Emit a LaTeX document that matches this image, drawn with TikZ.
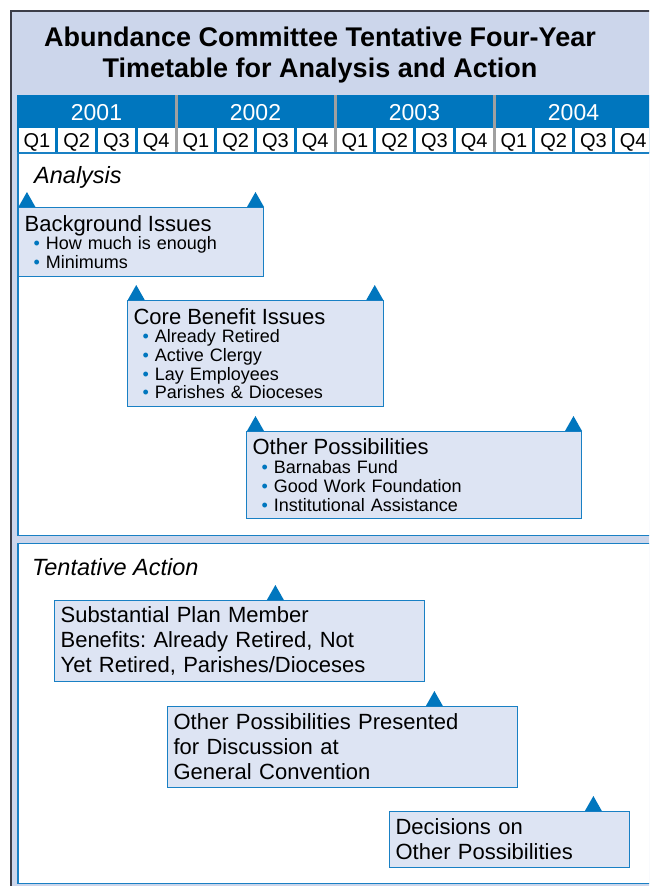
\documentclass[tikz,border=0pt]{standalone}
\usepackage{fontspec}
\setmainfont{Liberation Sans}
\usetikzlibrary{positioning}

\definecolor{lav}{RGB}{204,214,235}
\definecolor{boxfill}{RGB}{221,228,243}
\definecolor{boxline}{RGB}{25,128,196}
\definecolor{tlblue}{RGB}{0,118,190}
\definecolor{framegray}{RGB}{60,62,72}
\definecolor{divgray}{RGB}{160,160,160}

\newcommand{\qw}{39.75}
\newcommand{\boxhead}[1]{{\fontsize{22}{18.7}\selectfont #1}}
\newcommand{\itm}{\hspace*{9pt}{\color{tlblue}\textbullet}\hspace{6pt}}
\newcommand{\qmark}[2]{%
  \path ({17+#1*\qw},0) coordinate (qm);
  \fill[tlblue] (qm |- #2.north) ++(-8.5,0) -- ++(17,0) -- ++(-8.5,-15) -- cycle;}

\tikzset{
  ttl/.style={anchor=base,inner sep=0,font=\fontsize{27}{30}\selectfont\bfseries},
  yrlbl/.style={anchor=base,inner sep=0,text=white,font=\fontsize{23}{25}\selectfont},
  qlbl/.style={anchor=base,inner sep=0,font=\fontsize{20}{22}\selectfont},
  sectlbl/.style={anchor=base west,inner sep=0,font=\fontsize{23.5}{28}\selectfont\itshape},
  tlbox/.style={draw=boxline,line width=1.2pt,fill=boxfill,anchor=north west,
    inner xsep=6pt,inner ysep=0pt,align=left,font=\fontsize{18}{18.7}\selectfont},
  tlbig/.style={tlbox,font=\fontsize{22}{25}\selectfont}
}

\begin{document}
\frenchspacing
\begin{tikzpicture}[x=1pt,y=-1pt]
\useasboundingbox (0,0) rectangle (649,886);
\clip (0,0) rectangle (649,886);

\fill[lav] (10,10) rectangle (700,900);
\draw[framegray,line width=2pt] (11,900) -- (11,11) -- (700,11);

\node[ttl] (title1) at (320,46) {Abundance Committee Tentative Four-Year};
\node[ttl] (title2) at ([yshift=-31pt]title1.base) {Timetable for Analysis and Action};

% years and quarters
\fill[tlblue] (17,95) rectangle (700,153);
\foreach \q in {0,...,15}
  \fill[white] ({17+\q*\qw+1.5},128) rectangle ({17+(\q+1)*\qw-1.5},151.5);
\foreach \i in {1,2,3}
  \draw[divgray,line width=3pt] ({17+\i*159},95) -- ({17+\i*159},153);
\foreach \yr [count=\i from 0] in {2001,2002,2003,2004}
  \node[yrlbl] (y\yr) at ({17+(\i+0.5)*159},120) {\yr};
\foreach \q [evaluate=\q as \n using {int(mod(\q,4)+1)}] in {0,...,15}
  \node[qlbl] (q\q) at ({17+(\q+0.5)*\qw},147) {Q\n};

% panels
\draw[boxline,line width=1.5pt,fill=white] (17.75,153) rectangle (700,535.5);
\draw[boxline,line width=1.5pt,fill=white] (17.75,543.5) rectangle (700,883.5);
\node[sectlbl] (analysis) at (34,183) {Analysis};
\node[sectlbl] (action) at (32,575) {Tentative Action};

% analysis
\node[tlbox,text width=233pt,minimum height=69pt] (bgissues) at (18,207)
  {\boxhead{Background Issues}\\\itm How much is enough\\\itm Minimums};
\node[tlbox,text width=244pt,minimum height=106pt] (corebenefit) at (127,300)
  {\boxhead{Core Benefit Issues}\\\itm Already Retired\\\itm Active Clergy\\
   \itm Lay Employees\\\itm Parishes \& Dioceses};
\node[tlbox,text width=323pt,minimum height=87pt] (otherposs) at (246,431)
  {\boxhead{Other Possibilities}\\\itm Barnabas Fund\\\itm Good Work Foundation\\
   \itm Institutional Assistance};
\qmark{0.25}{bgissues} \qmark{6}{bgissues}
\qmark{3}{corebenefit} \qmark{9}{corebenefit}
\qmark{6}{otherposs} \qmark{14}{otherposs}

% tentative action
\node[tlbig,text width=358pt,minimum height=81pt] (planbenefits) at (54,600)
  {Substantial Plan Member\\Benefits: Already Retired, Not\\Yet Retired, Parishes/Dioceses};
\node[tlbig,text width=338pt,minimum height=81pt] (presented) at (167,706)
  {Other Possibilities Presented\\for Discussion at\\General Convention};
\node[tlbig,text width=228pt,minimum height=56pt] (decisions) at (389,811)
  {Decisions on\\Other Possibilities};
\qmark{6.5}{planbenefits}
\qmark{10.5}{presented}
\qmark{14.5}{decisions}
\end{tikzpicture}
\end{document}
